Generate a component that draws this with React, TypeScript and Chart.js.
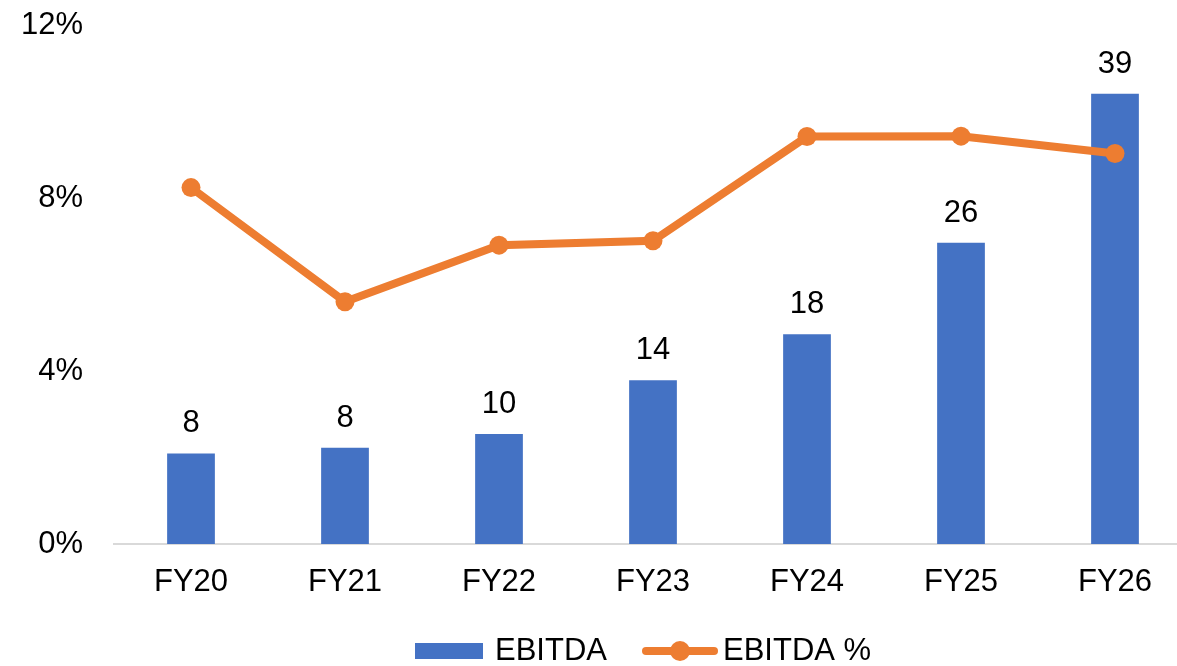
import React, { useEffect, useRef } from "react";
import { Chart, registerables } from "chart.js";

Chart.register(...registerables);

const categories = ["FY20", "FY21", "FY22", "FY23", "FY24", "FY25", "FY26"];
const ebitda = [7.9, 8.4, 9.6, 14.3, 18.3, 26.3, 39.3];
const ebitdaPct = [8.24, 5.6, 6.91, 7.01, 9.42, 9.43, 9.03];
const pctTicks = [0, 4, 8, 12];
const seriesNames = ["EBITDA", "EBITDA %"];

const BLUE = "#4472C4";
const ORANGE = "#ED7D31";
const FONT = "'Liberation Sans', Arial, sans-serif";
const FS = 31;

const labelPlugin = {
  id: "customLabels",
  afterDatasetsDraw(chart: any) {
    const ctx = chart.ctx;
    const meta = chart.getDatasetMeta(0);
    ctx.save();
    ctx.font = `${FS}px ${FONT}`;
    ctx.fillStyle = "#000";
    ctx.textAlign = "center";
    ctx.textBaseline = "alphabetic";
    meta.data.forEach((bar: any, i: number) => {
      ctx.fillText(String(Math.round(ebitda[i])), bar.x, bar.y - 21);
    });
    ctx.restore();
  },
  afterDraw(chart: any) {
    const ctx = chart.ctx;
    ctx.save();
    const cy = 651;
    ctx.fillStyle = BLUE;
    ctx.fillRect(415, 643, 68, 16);
    ctx.font = `${FS}px ${FONT}`;
    ctx.fillStyle = "#000";
    ctx.textAlign = "left";
    ctx.textBaseline = "middle";
    ctx.fillText(seriesNames[0], 495, cy);
    ctx.strokeStyle = ORANGE;
    ctx.lineWidth = 8;
    ctx.lineCap = "round";
    ctx.beginPath();
    ctx.moveTo(646, cy);
    ctx.lineTo(714, cy);
    ctx.stroke();
    ctx.fillStyle = ORANGE;
    ctx.beginPath();
    ctx.arc(680, cy, 10, 0, Math.PI * 2);
    ctx.fill();
    ctx.fillStyle = "#000";
    ctx.fillText(seriesNames[1], 723, cy);
    ctx.restore();
  },
};

export default function App() {
  const ref = useRef<HTMLCanvasElement | null>(null);
  useEffect(() => {
    if (!ref.current) return;
    const chart = new Chart(ref.current, {
      type: "bar",
      data: {
        labels: categories,
        datasets: [
          {
            type: "bar",
            label: seriesNames[0],
            data: ebitda,
            yAxisID: "y1",
            backgroundColor: BLUE,
            barPercentage: 0.31,
            categoryPercentage: 1,
            order: 2,
          },
          {
            type: "line",
            label: seriesNames[1],
            data: ebitdaPct,
            yAxisID: "y",
            borderColor: ORANGE,
            backgroundColor: ORANGE,
            borderWidth: 8,
            pointRadius: 9.5,
            pointBackgroundColor: ORANGE,
            pointBorderWidth: 0,
            tension: 0,
            order: 1,
          } as any,
        ],
      },
      options: {
        responsive: true,
        maintainAspectRatio: false,
        animation: false,
        layout: { autoPadding: false, padding: { top: 25, left: 21, right: 0, bottom: 65 } },
        plugins: {
          legend: { display: false },
          tooltip: { enabled: false },
        },
        scales: {
          x: {
            grid: { display: false, drawTicks: false },
            border: { display: true, color: "#D9D9D9", width: 2 },
            ticks: { font: { family: FONT, size: FS }, color: "#000", padding: 20 },
            afterFit: (axis: any) => {
              axis.height = 57;
              axis.paddingLeft = 0;
              axis.paddingRight = 0;
            },
          },
          y: {
            position: "left",
            min: 0,
            max: 12,
            afterBuildTicks: (axis: any) => {
              axis.ticks = pctTicks.map((v) => ({ value: v }));
            },
            grid: { display: false, drawTicks: false },
            border: { display: false },
            ticks: {
              font: { family: FONT, size: FS },
              color: "#000",
              padding: 31,
              callback: (v: any) => `${v}%`,
            },
            afterFit: (axis: any) => {
              axis.width = 93;
              axis.paddingTop = 0;
              axis.paddingBottom = 0;
            },
          },
          y1: {
            position: "right",
            display: false,
            min: 0,
            max: 45.3,
          },
        },
      },
      plugins: [labelPlugin],
    });
    return () => chart.destroy();
  }, []);
  return (
    <div style={{ position: "fixed", left: 0, top: 0, width: 1177, height: 666, overflow: "hidden", background: "#fff" }}>
      <div style={{ position: "relative", width: 1192, height: 666 }}>
        <canvas ref={ref} />
      </div>
    </div>
  );
}
